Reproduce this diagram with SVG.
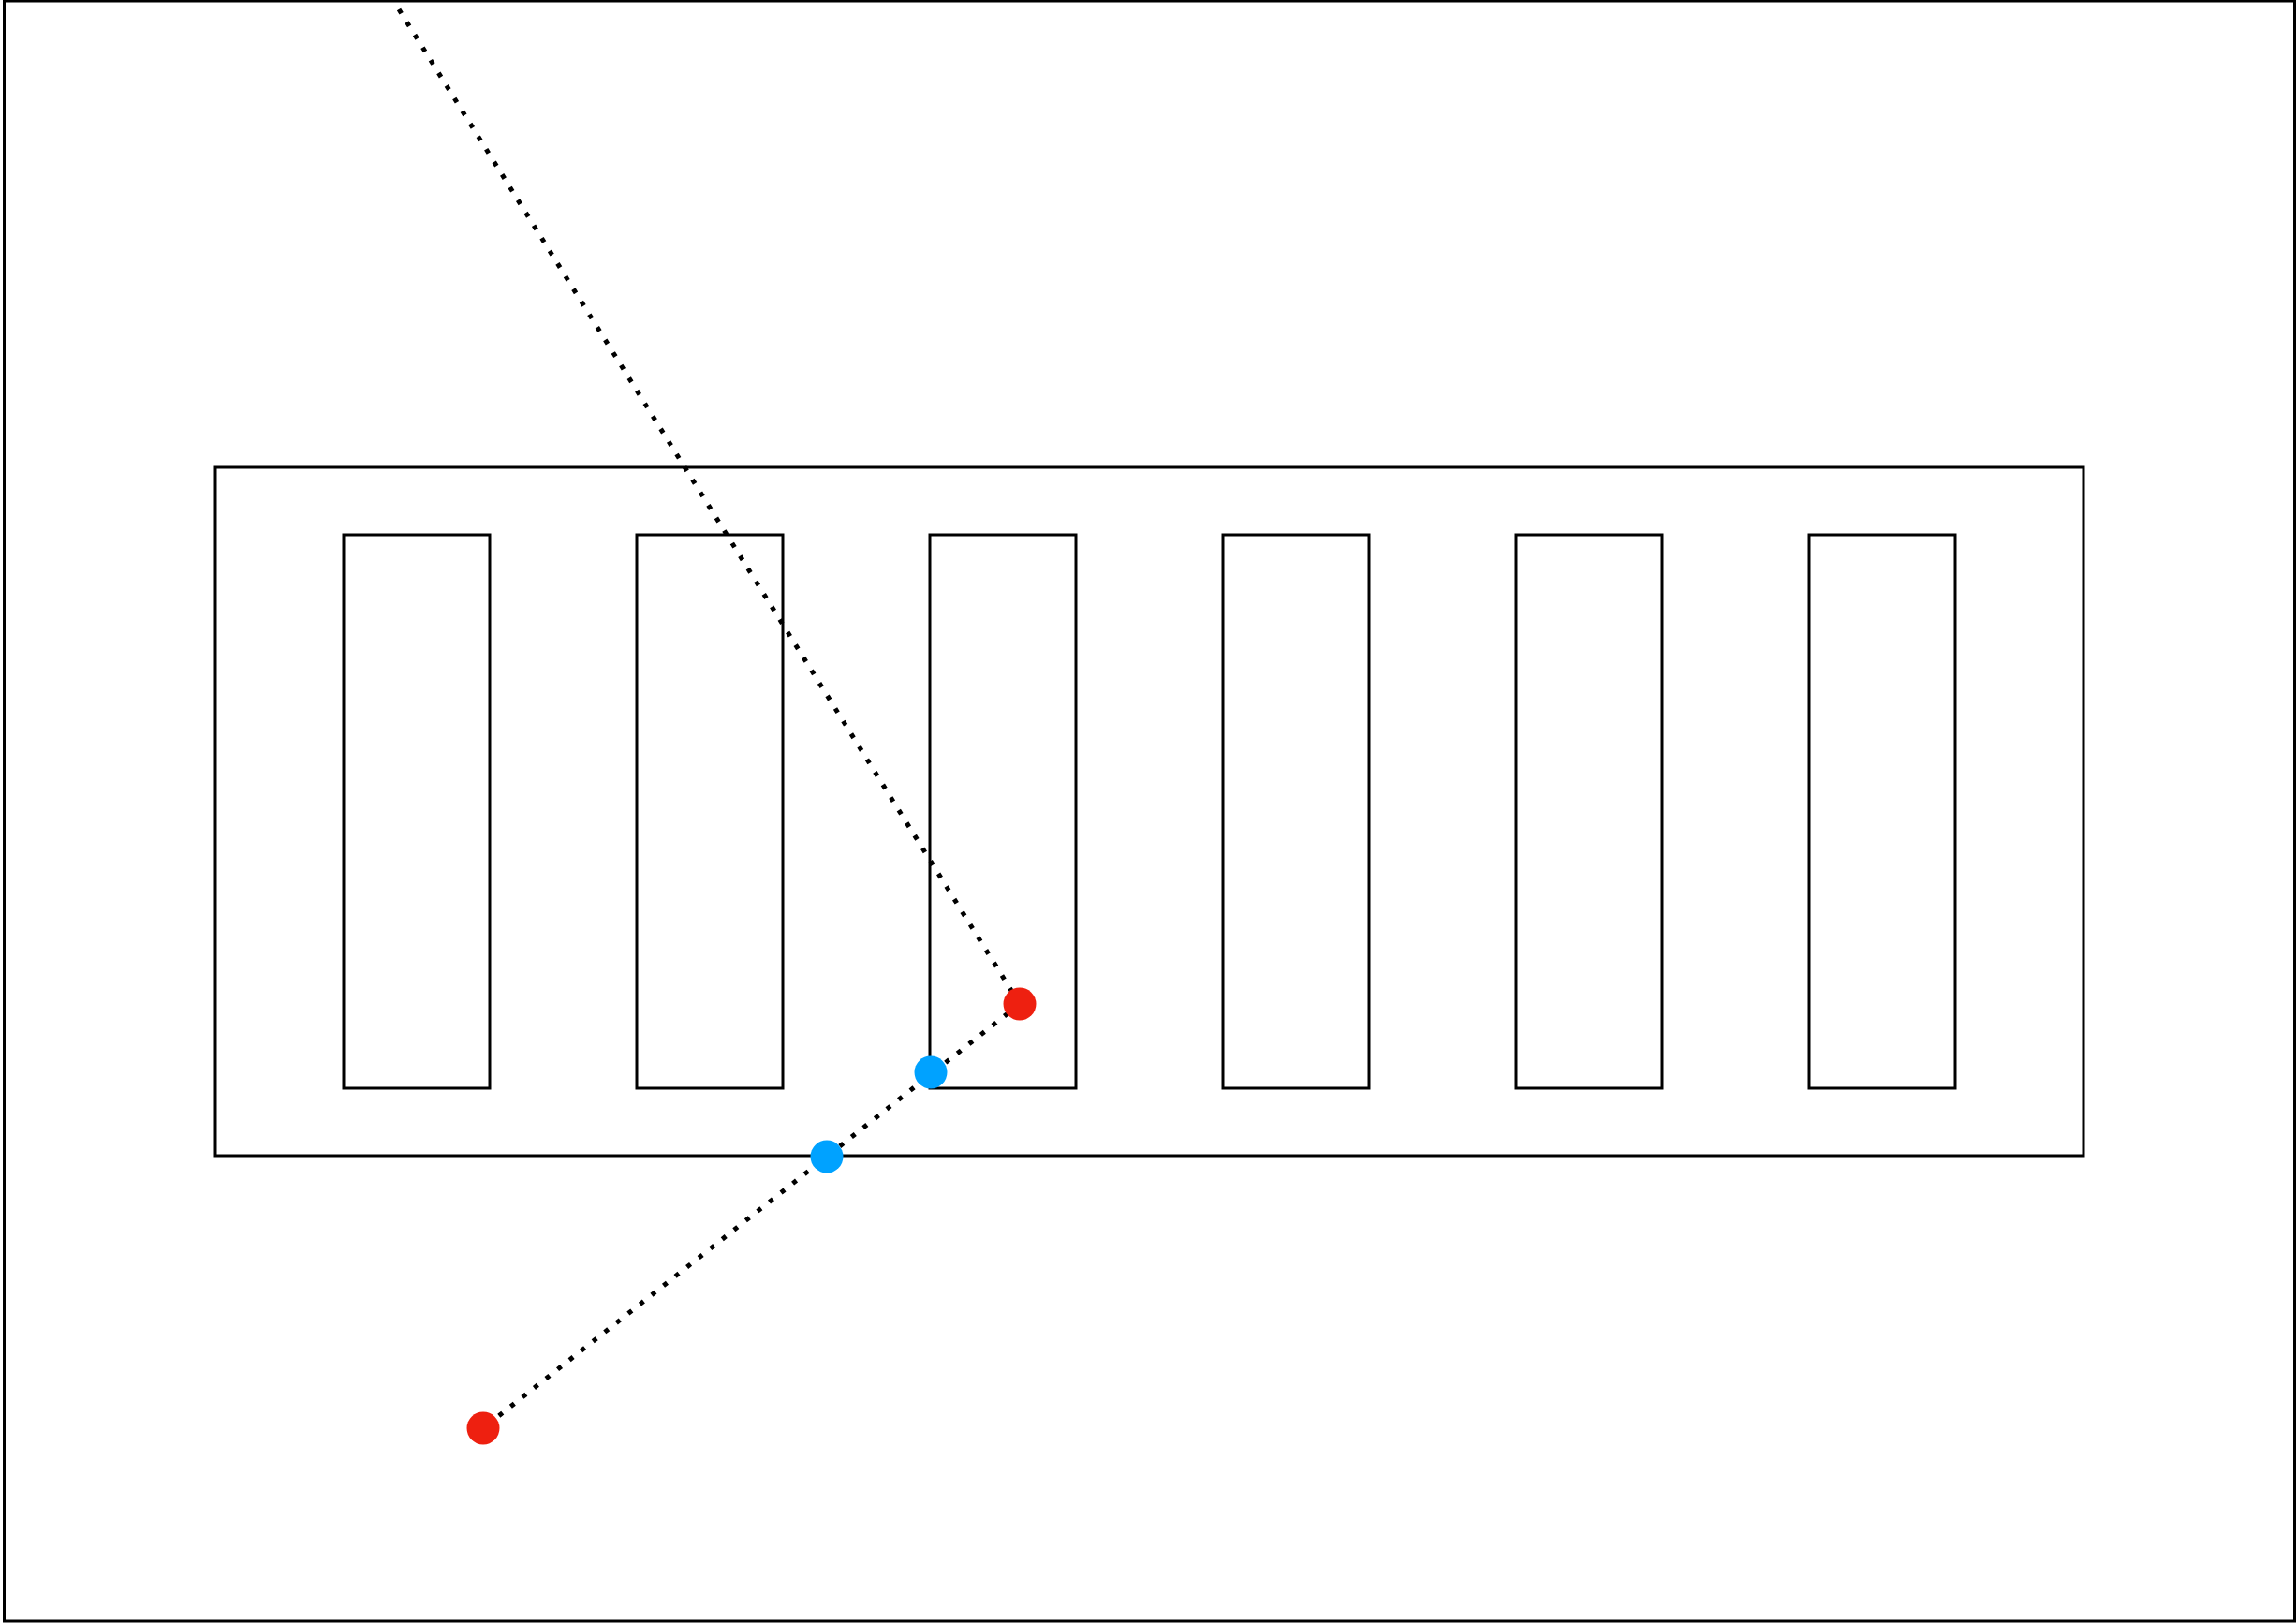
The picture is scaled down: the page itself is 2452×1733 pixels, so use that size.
<svg xmlns="http://www.w3.org/2000/svg" width="2452" height="1733" viewBox="0 0 2452 1733">
<style>
.box{fill:none;stroke:#000;stroke-width:3}
.path{fill:none;stroke:#000;stroke-width:5;stroke-dasharray:5 11}
.red{fill:#ee2010}
.blue{fill:#00a2ff}
</style>
<rect x="0" y="0" width="2452" height="1733" fill="#fff"/>
<g id="frame"><rect class="box" x="4.5" y="1" width="2446" height="1730"/></g>
<g id="container"><rect class="box" x="230" y="499" width="1995" height="735"/></g>
<g id="slot1"><rect class="box" x="367" y="571" width="156" height="591"/></g>
<g id="slot2"><rect class="box" x="680" y="571" width="156" height="591"/></g>
<g id="slot3"><rect class="box" x="993" y="571" width="156" height="591"/></g>
<g id="slot4"><rect class="box" x="1306" y="571" width="156" height="591"/></g>
<g id="slot5"><rect class="box" x="1619" y="571" width="156" height="591"/></g>
<g id="slot6"><rect class="box" x="1932" y="571" width="156" height="591"/></g>
<g id="connectors">
<line class="path" x1="426" y1="10" x2="1089" y2="1072"/>
<line class="path" x1="1089" y1="1072" x2="516" y2="1525"/>
</g>
<g id="point-red-1"><circle class="red" cx="1089" cy="1072" r="17.5"/></g>
<g id="point-blue-1"><circle class="blue" cx="994" cy="1145" r="17.5"/></g>
<g id="point-blue-2"><circle class="blue" cx="883" cy="1235" r="17.5"/></g>
<g id="point-red-2"><circle class="red" cx="516" cy="1525" r="17.5"/></g>
</svg>
